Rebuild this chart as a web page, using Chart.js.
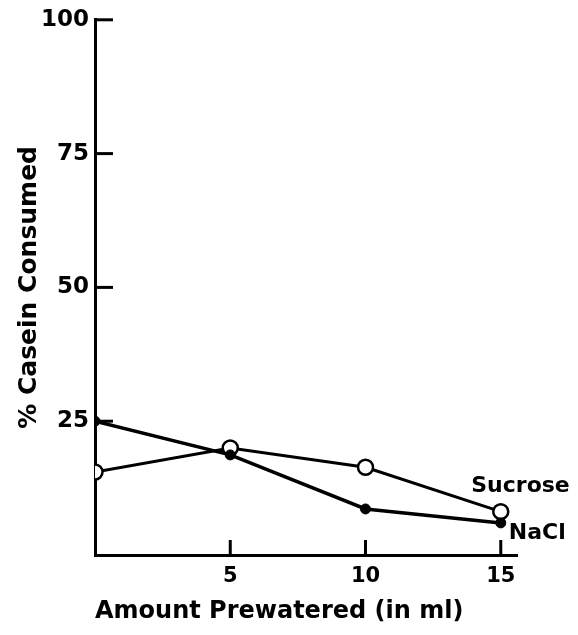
<!DOCTYPE html>
<html>
<head>
<meta charset="utf-8">
<script src="https://cdn.jsdelivr.net/npm/chart.js@4/dist/chart.umd.min.js"></script>
<style>
  html, body { margin: 0; padding: 0; background: #fff; }
  #wrap { width: 578px; height: 635px; }
</style>
</head>
<body>
<div id="wrap"><canvas id="c" width="578" height="635"></canvas></div>
<script>
// Amount of water given beforehand (ml)
const prewatered = [0, 5, 10, 15];
// Percent of casein consumed for each pre-treatment
const naclConsumed = [25, 18.7, 8.6, 6.0];
const sucroseConsumed = [15.5, 20, 16.4, 8.1];
// Axis tick values
const xTickValues = [5, 10, 15];
const yTickValues = [25, 50, 75, 100];

const FONT = "'DejaVu Sans', sans-serif";

const toPoints = (ys) => prewatered.map((x, i) => ({ x: x, y: ys[i] }));

// Inward tick marks and the series names at the end of each line
const decorations = {
  id: 'decorations',
  afterDatasetsDraw(chart) {
    const { ctx, scales: { x, y } } = chart;
    ctx.save();
    ctx.strokeStyle = '#000';
    ctx.lineWidth = 3;
    ctx.lineCap = 'butt';
    yTickValues.forEach(v => {
      const py = y.getPixelForValue(v);
      ctx.beginPath();
      ctx.moveTo(x.left, py);
      ctx.lineTo(x.left + 18, py);
      ctx.stroke();
    });
    xTickValues.forEach(v => {
      const px = x.getPixelForValue(v);
      ctx.beginPath();
      ctx.moveTo(px, y.bottom);
      ctx.lineTo(px, y.bottom - 15);
      ctx.stroke();
    });

    ctx.fillStyle = '#000';
    ctx.font = "bold 22px " + FONT;
    ctx.textBaseline = 'middle';
    const last = prewatered.length - 1;
    const sPt = chart.getDatasetMeta(1).data[last];
    ctx.textAlign = 'right';
    ctx.fillText('Sucrose', sPt.x + 69, sPt.y - 25);
    const nPt = chart.getDatasetMeta(0).data[last];
    ctx.textAlign = 'left';
    ctx.fillText('NaCl', nPt.x + 8, nPt.y + 10);
    ctx.restore();
  }
};

new Chart(document.getElementById('c'), {
  type: 'line',
  data: {
    datasets: [
      {
        label: 'NaCl',
        data: toPoints(naclConsumed),
        borderColor: '#000',
        borderWidth: 3.5,
        backgroundColor: '#000',
        pointBackgroundColor: '#000',
        pointBorderColor: '#000',
        pointRadius: 5,
        pointBorderWidth: 1,
        tension: 0,
        clip: 0
      },
      {
        label: 'Sucrose',
        data: toPoints(sucroseConsumed),
        borderColor: '#000',
        borderWidth: 3,
        backgroundColor: '#fff',
        pointBackgroundColor: '#fff',
        pointBorderColor: '#000',
        pointRadius: 7.5,
        pointBorderWidth: 2.5,
        tension: 0,
        clip: 0
      }
    ]
  },
  options: {
    responsive: false,
    animation: false,
    events: [],
    layout: { padding: { top: 19, right: 61, left: 0, bottom: 0 } },
    plugins: {
      legend: { display: false },
      tooltip: { enabled: false }
    },
    scales: {
      x: {
        type: 'linear',
        min: 0,
        max: 15.6,
        afterBuildTicks(scale) { scale.ticks = xTickValues.map(v => ({ value: v })); },
        afterFit(scale) { scale.height = 80; },
        grid: { display: false, drawTicks: false },
        border: { display: true, color: '#000', width: 3 },
        ticks: {
          color: '#000',
          padding: 9,
          maxRotation: 0,
          font: { family: FONT, size: 21, weight: 'bold' }
        },
        title: {
          display: true,
          align: 'start',
          text: 'Amount Prewatered (in ml)',
          color: '#000',
          padding: { top: 4, bottom: 9 },
          font: { family: FONT, size: 24, weight: 'bold' }
        }
      },
      y: {
        type: 'linear',
        min: 0,
        max: 100,
        afterBuildTicks(scale) { scale.ticks = yTickValues.map(v => ({ value: v })); },
        afterFit(scale) { scale.width = 95; },
        grid: { display: false, drawTicks: false },
        border: { display: true, color: '#000', width: 3 },
        ticks: {
          color: '#000',
          padding: 6,
          font: { family: FONT, size: 23, weight: 'bold' }
        },
        title: {
          display: true,
          text: '% Casein Consumed',
          color: '#000',
          padding: { top: 14, bottom: 0 },
          font: { family: FONT, size: 25, weight: 'bold' }
        }
      }
    }
  },
  plugins: [decorations]
});
</script>
</body>
</html>
